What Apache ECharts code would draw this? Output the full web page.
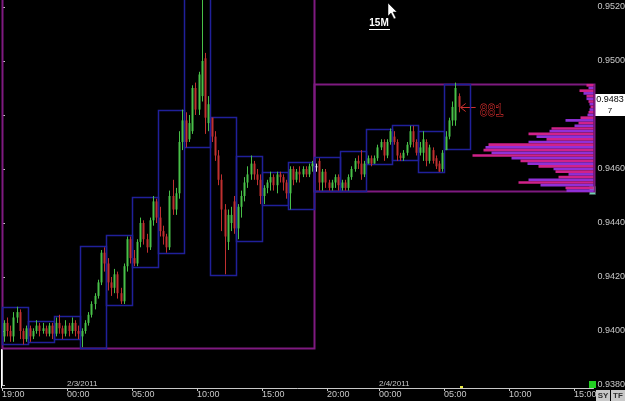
<!DOCTYPE html>
<html><head><meta charset="utf-8">
<script src="https://cdn.jsdelivr.net/npm/echarts@6/dist/echarts.min.js"></script>
<style>html,body{margin:0;padding:0;background:#000}#c{width:625px;height:401px}</style>
</head><body><div id="c"></div><script>
// x axis: hours since 2/2/2011 19:00
const tickHours=[0,5,10,15,20,25,29,34,39,44];
const tickLabels=['19:00','00:00','05:00','10:00','15:00','20:00','00:00','05:00','10:00','15:00'];
const dateHours=[5,29];
const dateLabels=['2/3/2011','2/4/2011'];
const priceTicks=[0.9380,0.9400,0.9420,0.9440,0.9460,0.9480,0.9500,0.9520];
const priceLabels=[0.9380,0.9400,0.9420,0.9440,0.9460,0.9500,0.9520];
const barHours=0.25; // 15M bars
// [open, close, low, high]
const candles=[
[0.9398,0.9403,0.9396,0.9404],[0.9403,0.9400,0.9398,0.9405],[0.9400,0.9398,0.9396,0.9402],[0.9398,0.9405,0.9396,0.9407],
[0.9405,0.9407,0.9403,0.9409],[0.9407,0.9400,0.9397,0.9408],[0.9400,0.9397,0.9395,0.9401],[0.9397,0.9401,0.9396,0.9402],
[0.9401,0.9398,0.9396,0.9402],[0.9398,0.9400,0.9397,0.9401],[0.9400,0.9402,0.9399,0.9404],[0.9402,0.9400,0.9398,0.9403],
[0.9400,0.9401,0.9399,0.9403],[0.9401,0.9399,0.9398,0.9402],[0.9399,0.9402,0.9398,0.9403],[0.9402,0.9399,0.9397,0.9403],
[0.9399,0.9403,0.9398,0.9405],[0.9403,0.9401,0.9399,0.9406],[0.9401,0.9399,0.9397,0.9402],[0.9399,0.9402,0.9398,0.9404],
[0.9402,0.9400,0.9398,0.9403],[0.9400,0.9403,0.9399,0.9405],[0.9403,0.9400,0.9398,0.9404],[0.9400,0.9399,0.9397,0.9402],
[0.9398,0.9400,0.9394,0.9401],[0.9400,0.9403,0.9399,0.9404],[0.9403,0.9406,0.9402,0.9407],[0.9406,0.9410,0.9405,0.9411],
[0.9410,0.9413,0.9408,0.9414],[0.9413,0.9418,0.9412,0.9419],[0.9418,0.9429,0.9417,0.9430],[0.9429,0.9425,0.9422,0.9431],
[0.9425,0.9418,0.9415,0.9427],[0.9418,0.9416,0.9413,0.9420],[0.9416,0.9421,0.9414,0.9423],[0.9421,0.9414,0.9412,0.9422],
[0.9414,0.9411,0.9410,0.9416],[0.9411,0.9424,0.9410,0.9425],[0.9424,0.9434,0.9422,0.9435],[0.9434,0.9427,0.9425,0.9435],
[0.9427,0.9425,0.9424,0.9430],[0.9425,0.9433,0.9424,0.9434],[0.9433,0.9440,0.9431,0.9442],[0.9440,0.9434,0.9432,0.9441],
[0.9434,0.9431,0.9429,0.9436],[0.9431,0.9441,0.9430,0.9442],[0.9441,0.9448,0.9439,0.9450],[0.9448,0.9442,0.9440,0.9449],
[0.9442,0.9437,0.9435,0.9446],[0.9437,0.9435,0.9432,0.9439],[0.9435,0.9431,0.9429,0.9436],[0.9431,0.9450,0.9430,0.9452],
[0.9450,0.9445,0.9443,0.9456],[0.9445,0.9451,0.9443,0.9453],[0.9451,0.9470,0.9449,0.9474],[0.9470,0.9478,0.9467,0.9482],
[0.9478,0.9470,0.9468,0.9481],[0.9471,0.9477,0.9470,0.9480],[0.9474,0.9490,0.9473,0.9491],[0.9490,0.9482,0.9480,0.9492],
[0.9482,0.9495,0.9480,0.9496],[0.9487,0.9500,0.9485,0.9530],[0.9501,0.9479,0.9473,0.9503],[0.9477,0.9484,0.9474,0.9487],
[0.9479,0.9472,0.9470,0.9479],[0.9472,0.9465,0.9463,0.9474],[0.9465,0.9456,0.9454,0.9467],[0.9456,0.9445,0.9437,0.9458],
[0.9445,0.9435,0.9421,0.9447],[0.9433,0.9443,0.9430,0.9445],[0.9440,0.9443,0.9437,0.9446],[0.9448,0.9438,0.9436,0.9450],
[0.9438,0.9446,0.9434,0.9447],[0.9446,0.9450,0.9442,0.9452],[0.9450,0.9455,0.9448,0.9457],[0.9455,0.9458,0.9453,0.9461],
[0.9458,0.9462,0.9456,0.9465],[0.9462,0.9458,0.9456,0.9463],[0.9458,0.9456,0.9454,0.9460],[0.9456,0.9450,0.9447,0.9458],
[0.9450,0.9453,0.9447,0.9454],[0.9453,0.9455,0.9451,0.9456],[0.9455,0.9457,0.9452,0.9459],[0.9457,0.9454,0.9452,0.9458],
[0.9454,0.9458,0.9451,0.9459],[0.9458,0.9457,0.9455,0.9459],[0.9457,0.9455,0.9452,0.9458],[0.9455,0.9451,0.9449,0.9456],
[0.9451,0.9460,0.9445,0.9461],[0.9460,0.9456,0.9454,0.9461],[0.9456,0.9459,0.9455,0.9460],[0.9459,0.9458,0.9455,0.9461],
[0.9458,0.9460,0.9457,0.9461],[0.9460,0.9458,0.9457,0.9461],[0.9458,0.9461,0.9457,0.9462],[0.9461,0.9462,0.9459,0.9463],
[0.9461,0.9461,0.9459,0.9462],[0.9463,0.9455,0.9452,0.9464],[0.9455,0.9459,0.9452,0.9460],[0.9459,0.9455,0.9453,0.9460],
[0.9455,0.9453,0.9452,0.9456],[0.9453,0.9455,0.9452,0.9456],[0.9455,0.9457,0.9453,0.9458],[0.9457,0.9454,0.9452,0.9458],
[0.9453,0.9455,0.9452,0.9456],[0.9455,0.9453,0.9452,0.9456],[0.9453,0.9457,0.9452,0.9458],[0.9457,0.9460,0.9456,0.9461],
[0.9460,0.9463,0.9459,0.9464],[0.9463,0.9462,0.9460,0.9465],[0.9462,0.9458,0.9456,0.9467],[0.9458,0.9462,0.9457,0.9463],
[0.9462,0.9464,0.9462,0.9465],[0.9464,0.9462,0.9461,0.9465],[0.9462,0.9464,0.9462,0.9465],[0.9464,0.9468,0.9463,0.9469],
[0.9468,0.9470,0.9467,0.9471],[0.9470,0.9465,0.9463,0.9471],[0.9465,0.9470,0.9464,0.9471],[0.9470,0.9474,0.9469,0.9475],
[0.9472,0.9470,0.9469,0.9474],[0.9470,0.9465,0.9463,0.9471],[0.9465,0.9464,0.9463,0.9466],[0.9464,0.9466,0.9463,0.9467],
[0.9466,0.9469,0.9465,0.9470],[0.9469,0.9474,0.9468,0.9476],[0.9474,0.9470,0.9468,0.9476],[0.9470,0.9466,0.9465,0.9471],
[0.9466,0.9468,0.9465,0.9470],[0.9466,0.9471,0.9463,0.9474],[0.9470,0.9463,0.9461,0.9471],[0.9463,0.9468,0.9462,0.9469],
[0.9467,0.9463,0.9462,0.9468],[0.9464,0.9461,0.9460,0.9465],[0.9462,0.9459,0.9459,0.9463],[0.9460,0.9466,0.9459,0.9467],
[0.9467,0.9472,0.9467,0.9474],[0.9472,0.9478,0.9471,0.9479],[0.9478,0.9483,0.9476,0.9485],[0.9478,0.9490,0.9476,0.9492],
[0.9487,0.9483,0.9481,0.9488]
];
// 2-hour range boxes
const boxStarts=[0,2,4,6,8,10,12,14,16,18,20,22,24,26,28,30,32,34];
const boxHours=2;
const boxLows=[0.93952,0.93959,0.93970,0.93937,0.94096,0.94237,0.94289,0.94681,0.94207,0.94333,0.94467,0.94452,0.94519,0.94519,0.94619,0.94633,0.94589,0.94674];
const boxHighs=[0.94089,0.94037,0.94056,0.94315,0.94356,0.94496,0.94819,0.9525,0.94793,0.94648,0.94589,0.94626,0.94644,0.94667,0.94748,0.94763,0.94741,0.94915];
// daily session boxes
const sessionStarts=[0,24];
const sessionEnds=[24,45.5];
const sessionLows=[0.93937,0.94519];
const sessionHighs=[0.9525,0.94915];
// volume profile of current session
const profilePrices=[0.9491,0.9490,0.9489,0.9488,0.9487,0.9486,0.9485,0.9484,0.9483,0.9482,0.9481,0.9480,0.9479,0.9478,0.9477,0.9476,0.9475,0.9474,0.9473,0.9472,0.9471,0.9470,0.9469,0.9468,0.9467,0.9466,0.9465,0.9464,0.9463,0.9462,0.9461,0.9460,0.9459,0.9458,0.9457,0.9456,0.9455,0.9454,0.9453,0.9452];
const profileVolumes=[7,5,14,10,7,7,5,4,3,4,5,6,13,28,15,19,42,44,65,57,47,65,105,108,110,102,121,82,73,66,55,40,38,25,35,65,75,53,28,27];
const lastPriceText='0.9483', lastPipette='7', lastPrice=0.94837;
const noteText='881', notePrice=0.94828;
const timeframe='15M';

const chart=echarts.init(document.getElementById('c'),null,{renderer:'canvas'});
const XMAX=45.5, YMIN=0.9380, YMAX=0.952259;
const candleData=candles.map((c,i)=>[i*barHours+0.125,c[0],c[1],c[2],c[3]]);
const boxData=boxStarts.map((s,i)=>[s,s+boxHours,boxLows[i],boxHighs[i]]);
const sessData=sessionStarts.map((s,i)=>[s,sessionEnds[i],sessionLows[i],sessionHighs[i]]);
const profData=profilePrices.map((p,i)=>[profileVolumes[i],p]);

function rectRender(color,lw){
  return function(params,api){
    const a=api.coord([api.value(0),api.value(3)]);
    const b=api.coord([api.value(1),api.value(2)]);
    return {type:'rect',shape:{x:Math.round(a[0])+0.5,y:Math.round(a[1])+0.5,width:Math.round(b[0]-a[0]),height:Math.round(b[1]-a[1])},
      style:{fill:'none',stroke:color,lineWidth:lw}};
  };
}
function candleRender(params,api){
  const t=api.value(0),o=api.value(1),c=api.value(2),l=api.value(3),h=api.value(4);
  const pO=api.coord([t,o]),pC=api.coord([t,c]),pL=api.coord([t,l]),pH=api.coord([t,h]);
  const x=Math.round(pO[0]);
  const col=o===c?'#e8e8e8':(c>o?'#48c048':'#c03030');
  const top=Math.min(pO[1],pC[1]),bot=Math.max(pO[1],pC[1]);
  return {type:'group',children:[
    {type:'line',shape:{x1:x+0.5,y1:pH[1],x2:x+0.5,y2:pL[1]},style:{stroke:col,lineWidth:1}},
    {type:'rect',shape:{x:x-0.5,y:top,width:2,height:Math.max(1,bot-top)},style:{fill:col}}
  ]};
}
function profRender(params,api){
  const v=api.value(0),p=api.value(1);
  const a=api.coord([v,p+0.00005]);
  const b=api.coord([0,p-0.00005]);
  const col=params.dataIndex%2===0?'#d0228a':'#9030d8';
  return {type:'rect',shape:{x:a[0],y:a[1],width:b[0]-a[0],height:b[1]-a[1]},style:{fill:col}};
}
const axisCol='#c8c8c8';
chart.setOption({
  backgroundColor:'#000',
  animation:false,
  grid:{left:2,right:31.5,top:0,bottom:16,containLabel:false,outerBoundsMode:'none'},
  xAxis:[{type:'value',min:0,max:XMAX,offset:3,
    axisLine:{show:true,lineStyle:{color:axisCol,width:1}},
    axisTick:{show:true,length:3,customValues:tickHours,lineStyle:{color:axisCol}},
    axisLabel:{customValues:tickHours,color:axisCol,fontSize:9,fontFamily:'Liberation Sans',align:'left',margin:2,
      formatter:v=>{const i=tickHours.indexOf(Math.round(v));return i>=0?tickLabels[i]:'';}},
    splitLine:{show:false}},
   {type:'value',min:0,max:591.5,inverse:true,show:false}],
  yAxis:{type:'value',position:'right',min:YMIN,max:YMAX,
    axisLine:{show:true,lineStyle:{color:axisCol}},
    axisTick:{show:true,length:3,customValues:priceTicks,lineStyle:{color:axisCol}},
    axisLabel:{customValues:priceLabels,color:axisCol,fontSize:9,fontFamily:'Liberation Sans',margin:4,formatter:v=>v.toFixed(4)},
    splitLine:{show:false}},
  series:[
    {type:'custom',name:'sessions',xAxisIndex:0,renderItem:rectRender('#7e1a80',2),data:sessData,z:1,silent:true},
    {type:'custom',name:'ranges',xAxisIndex:0,renderItem:rectRender('#20209a',1.5),data:boxData,z:2,silent:true},
    {type:'custom',name:'profile',xAxisIndex:1,renderItem:profRender,data:profData,z:3,silent:true},
    {type:'custom',name:'EURCHF 15M',xAxisIndex:0,renderItem:candleRender,data:candleData,z:4,silent:true}
  ]
});
const px=(h,p)=>chart.convertToPixel({xAxisIndex:0,yAxisIndex:0},[h,p]);
const g=[];
dateHours.forEach((h,i)=>{const q=px(h,YMIN);g.push({type:'text',x:q[0],y:q[1]-1,style:{text:dateLabels[i],fill:axisCol,font:'8px "Liberation Sans"',textAlign:'left',textVerticalAlign:'middle'}});});
const lp=px(XMAX,lastPrice);
const ly=Math.round(lp[1]);
g.push({type:'rect',shape:{x:595,y:ly-11,width:30,height:22},style:{fill:'#ffffff'}});
g.push({type:'text',x:610,y:ly-5,style:{text:lastPriceText,fill:'#000',font:'9px "Liberation Sans"',textAlign:'center',textVerticalAlign:'middle'}});
g.push({type:'text',x:610,y:ly+6,style:{text:lastPipette,fill:'#000',font:'8px "Liberation Sans"',textAlign:'center',textVerticalAlign:'middle'}});
const np=px(candles.length*barHours-0.25+0.125,notePrice);
const ax=np[0]+2, ay=Math.round(np[1])+0.5;
g.push({type:'polyline',shape:{points:[[ax+15,ay],[ax,ay]]},style:{stroke:'#d03030',lineWidth:1}});
g.push({type:'polyline',shape:{points:[[ax+5,ay-4],[ax,ay],[ax+5,ay+4]]},style:{stroke:'#d03030',lineWidth:1,fill:'none'}});
g.push({type:'text',x:ax+19,y:ay+3,scaleX:0.7,style:{text:noteText,fill:'#000',stroke:'#e03030',lineWidth:1.2,font:'19px "Liberation Mono"',textAlign:'left',textVerticalAlign:'middle'}});
g.push({type:'text',x:379,y:23,style:{text:timeframe,fill:'#ffffff',font:'bold 10px "Liberation Sans"',textAlign:'center',textVerticalAlign:'middle'}});
g.push({type:'line',shape:{x1:369,y1:29.5,x2:390,y2:29.5},style:{stroke:'#ffffff',lineWidth:1}});
g.push({type:'polygon',shape:{points:[[388,3],[388,16],[391,13],[394,19],[396,18],[393,12],[397,12]]},style:{fill:'#ffffff',stroke:'#000',lineWidth:0.5}});
g.push({type:'line',shape:{x1:1.5,y1:349,x2:1.5,y2:388},style:{stroke:'#ffffff',lineWidth:1}});
g.push({type:'rect',shape:{x:589,y:381,width:7,height:7},style:{fill:'#22d022'}});
g.push({type:'rect',shape:{x:460,y:386,width:3,height:3},style:{fill:'#e8e840'}});
const sp=px(XMAX,profilePrices[profilePrices.length-1]);
g.push({type:'rect',shape:{x:589.5,y:Math.round(sp[1])-4.5,width:6,height:8},style:{fill:'#70d0b0',stroke:'#406050',lineWidth:0.5}});
g.push({type:'rect',shape:{x:596,y:390,width:14,height:11},style:{fill:'#c8c8c8'}});
g.push({type:'text',x:603,y:396,style:{text:'SY',fill:'#303030',font:'bold 8px "Liberation Sans"',textAlign:'center',textVerticalAlign:'middle'}});
g.push({type:'rect',shape:{x:611,y:390,width:14,height:11},style:{fill:'#c8c8c8'}});
g.push({type:'text',x:618,y:396,style:{text:'TF',fill:'#303030',font:'bold 8px "Liberation Sans"',textAlign:'center',textVerticalAlign:'middle'}});
chart.setOption({graphic:g});
</script></body></html>
